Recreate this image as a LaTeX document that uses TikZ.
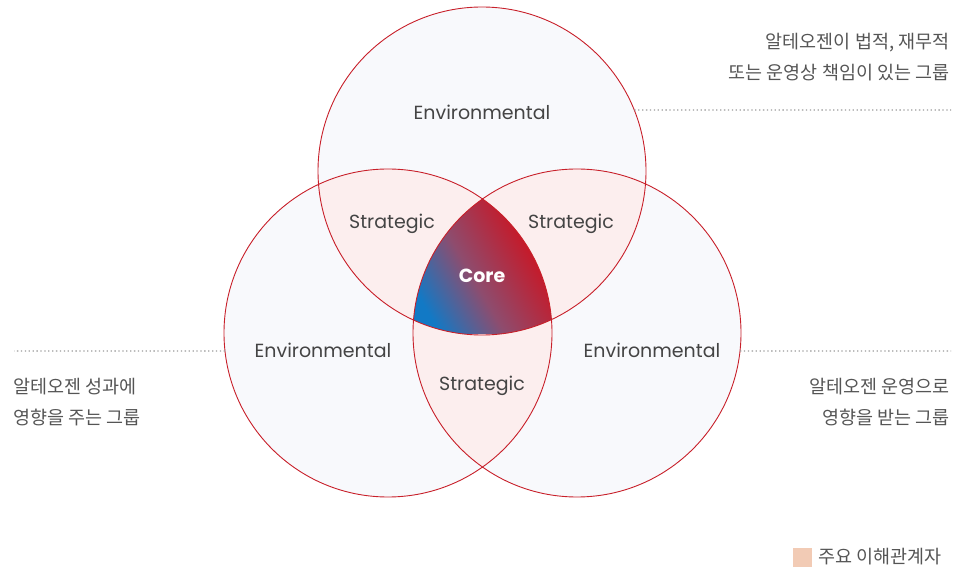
\documentclass[tikz,border=0pt]{standalone}
\usepackage{fontspec}
\setmainfont{Poppins}
\newfontfamily\kofont{Noto Sans CJK KR}
\definecolor{ringred}{HTML}{C8202A}
\definecolor{envfill}{HTML}{F8F9FC}
\definecolor{stratfill}{HTML}{FCEEEE}
\definecolor{corered}{HTML}{D0101C}
\definecolor{coremid}{HTML}{8E4C6E}
\definecolor{coreblue}{HTML}{1279C5}
\definecolor{textgray}{HTML}{444444}
\definecolor{notegray}{HTML}{555555}
\definecolor{guidegray}{HTML}{9A9A9A}
\definecolor{legendfill}{HTML}{F2CBB5}
\pgfdeclarehorizontalshading{coregrad}{100bp}{color(0bp)=(coreblue); color(25bp)=(coreblue); color(45bp)=(coremid); color(72bp)=(corered); color(100bp)=(corered)}

\begin{document}
\begin{tikzpicture}[x=1pt,y=-1pt,
	ring/.style={draw=ringred,line width=0.9pt},
	lbl/.style={text=textgray,font=\fontsize{19}{19}\selectfont},
	note/.style={text=notegray,font=\kofont\fontsize{18.5}{31}\selectfont},
	guide/.style={draw=guidegray,line width=1.3pt,dash pattern=on 1.3pt off 2.6pt}]
		\useasboundingbox (0,0) rectangle (954,569);
		\coordinate (top) at (482,171);
		\coordinate (left) at (388,333);
		\coordinate (right) at (577,333);
		
		% circles and overlaps
		\fill[envfill] (top) circle (164pt) (left) circle (164pt) (right) circle (164pt);
		\begin{scope}
			\clip (top) circle (164pt);
			\fill[stratfill] (left) circle (164pt) (right) circle (164pt);
		\end{scope}
		\begin{scope}
			\clip (left) circle (164pt);
			\fill[stratfill] (right) circle (164pt);
		\end{scope}
		\begin{scope}
			\clip (top) circle (164pt);
			\clip (left) circle (164pt);
			\clip (right) circle (164pt);
			\shade[shading=coregrad,shading angle=30] (410,197) rectangle (554,334);
		\end{scope}
		\draw[ring] (top) circle (164pt) (left) circle (164pt) (right) circle (164pt);
		
		\node[lbl] (envtop) at (482,112) {Environmental};
		\node[lbl] (envleft) at (323,350) {Environmental};
		\node[lbl] (envright) at (652,350) {Environmental};
		\node[lbl] (stratl) at (392,224) {Strategic};
		\node[lbl] (stratr) at (571,224) {Strategic};
		\node[lbl] (stratb) at (482,386) {Strategic};
		\node[text=white,font=\fontsize{19}{19}\selectfont\bfseries] (core) at (482,276) {Core};
		
		% guide lines
		\coordinate (gtop) at ([shift={(21.8:164pt)}]top);
		\coordinate (gtopend) at (951,110);
		\coordinate (gleft) at ([shift={(186.3:164pt)}]left);
		\coordinate (gleftend) at (14,351);
		\coordinate (gright) at ([shift={(-6.3:164pt)}]right);
		\coordinate (grightend) at (951,351);
		\draw[guide] (gtop) -- (gtopend);
		\draw[guide] (gleft) -- (gleftend);
		\draw[guide] (gright) -- (grightend);
		
		\node[note,anchor=east,align=right] (notetop) at (953,57) {알테오젠이 법적, 재무적\\또는 운영상 책임이 있는 그룹};
		\node[note,anchor=west,align=left] (noteleft) at (10,402) {알테오젠 성과에\\영향을 주는 그룹};
		\node[note,anchor=east,align=right] (noteright) at (953,402) {알테오젠 운영으로\\영향을 받는 그룹};
		
		% legend
		\fill[legendfill] (793,548) rectangle (812,567);
		\node[note,anchor=west] (legend) at (815,557) {주요 이해관계자};
\end{tikzpicture}
\end{document}
